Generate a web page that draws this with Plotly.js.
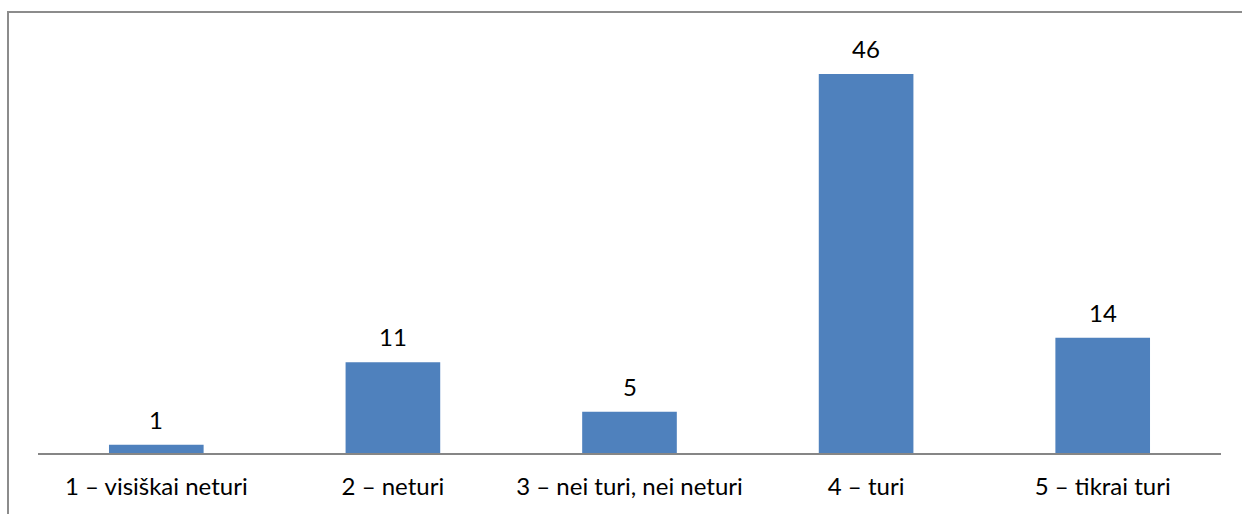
<!DOCTYPE html>
<html>
<head>
<meta charset="utf-8">
<script src="https://cdn.plot.ly/plotly-3.0.1.min.js"></script>
<style>
  html, body { margin: 0; padding: 0; background: #fff; overflow: hidden; }
  #wrap { position: relative; width: 1242px; height: 514px; }
  #chart { position: absolute; left: 0; top: 0; width: 1242px; height: 514px; }
  #frame {
    position: absolute; left: 7px; top: 11px; width: 1260px; height: 540px;
    border: 2px solid #8c8c8c; box-sizing: border-box; pointer-events: none;
  }
</style>
</head>
<body>
<div id="wrap">
  <div id="chart"></div>
  <div id="frame"></div>
</div>
<script>
// Answers per rating option
const categories = [
  "1 – visiškai neturi",
  "2 – neturi",
  "3 – nei turi, nei neturi",
  "4 – turi",
  "5 – tikrai turi"
];
const counts = [1, 11, 5, 46, 14];

const FONT = "Lato, 'Open Sans', sans-serif";

const trace = {
  type: "bar",
  x: categories,
  y: counts,
  marker: { color: "#4F81BD", line: { width: 0 } },
  hoverinfo: "x+y"
};

// value labels above each bar
const labels = categories.map((c, i) => ({
  x: c,
  y: counts[i],
  xref: "x",
  yref: "y",
  text: String(counts[i]),
  showarrow: false,
  yanchor: "bottom",
  yshift: 9,
  font: { family: FONT, size: 24, color: "#000" }
}));

const layout = {
  width: 1242,
  height: 514,
  margin: { l: 38, r: 21, t: 41, b: 61, pad: 0 },
  paper_bgcolor: "#fff",
  plot_bgcolor: "#fff",
  showlegend: false,
  bargap: 0.6,
  xaxis: {
    type: "category",
    showline: true,
    linecolor: "#868686",
    linewidth: 1.5,
    ticks: "",
    showgrid: false,
    zeroline: false,
    ticklabelstandoff: 12,
    tickfont: { family: FONT, size: 24, color: "#000" }
  },
  yaxis: {
    range: [0, 50],
    visible: false,
    showgrid: false,
    zeroline: false
  },
  annotations: labels
};

Plotly.newPlot("chart", [trace], layout, { staticPlot: true, displayModeBar: false });
</script>
</body>
</html>
